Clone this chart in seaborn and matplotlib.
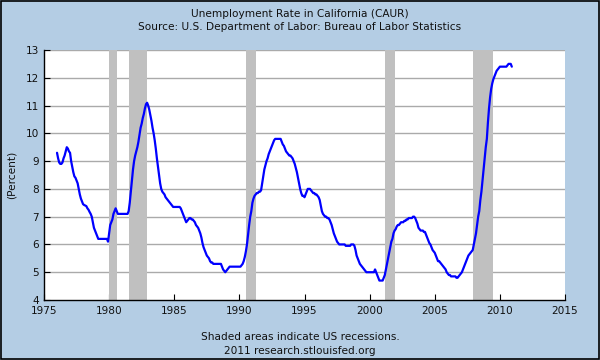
import numpy as np
import pandas as pd
import matplotlib
matplotlib.use("Agg")
import matplotlib.pyplot as plt
import seaborn as sns
from matplotlib.patches import Rectangle

# Monthly California unemployment rate (%), Jan 1976 - Dec 2010
rate_1976 = [9.3, 9.1, 8.95, 8.9, 8.9, 8.95, 9.1, 9.2, 9.35, 9.5, 9.45, 9.35]
rate_1977 = [9.3, 9.0, 8.8, 8.6, 8.45, 8.4, 8.3, 8.2, 8.0, 7.8, 7.65, 7.55]
rate_1978 = [7.45, 7.42, 7.4, 7.38, 7.3, 7.25, 7.17, 7.1, 7.0, 6.8, 6.6, 6.5]
rate_1979 = [6.4, 6.3, 6.2, 6.2, 6.2, 6.2, 6.2, 6.2, 6.2, 6.2, 6.2, 6.1]
rate_1980 = [6.4, 6.7, 6.8, 6.9, 7.1, 7.2, 7.3, 7.2, 7.1, 7.1, 7.1, 7.1]
rate_1981 = [7.1, 7.1, 7.1, 7.1, 7.1, 7.1, 7.2, 7.5, 7.9, 8.3, 8.7, 9.0]
rate_1982 = [9.2, 9.35, 9.5, 9.7, 9.95, 10.2, 10.35, 10.55, 10.7, 10.9, 11.05, 11.1]
rate_1983 = [11.0, 10.85, 10.65, 10.45, 10.2, 10.0, 9.75, 9.45, 9.1, 8.8, 8.5, 8.2]
rate_1984 = [8.0, 7.9, 7.85, 7.8, 7.7, 7.65, 7.6, 7.55, 7.5, 7.45, 7.4, 7.35]
rate_1985 = [7.35, 7.35, 7.35, 7.35, 7.35, 7.35, 7.3, 7.2, 7.1, 7.0, 6.9, 6.8]
rate_1986 = [6.85, 6.9, 6.95, 6.95, 6.9, 6.9, 6.85, 6.8, 6.7, 6.65, 6.6, 6.5]
rate_1987 = [6.4, 6.25, 6.05, 5.9, 5.8, 5.7, 5.6, 5.55, 5.5, 5.4, 5.35, 5.35]
rate_1988 = [5.3, 5.3, 5.3, 5.3, 5.3, 5.3, 5.3, 5.3, 5.2, 5.1, 5.05, 5.0]
rate_1989 = [5.05, 5.1, 5.15, 5.2, 5.2, 5.2, 5.2, 5.2, 5.2, 5.2, 5.2, 5.2]
rate_1990 = [5.2, 5.2, 5.25, 5.3, 5.4, 5.55, 5.75, 6.0, 6.35, 6.7, 7.0, 7.2]
rate_1991 = [7.5, 7.65, 7.75, 7.8, 7.85, 7.85, 7.9, 7.9, 7.95, 8.2, 8.45, 8.7]
rate_1992 = [8.85, 9.0, 9.1, 9.25, 9.35, 9.45, 9.55, 9.65, 9.75, 9.8, 9.8, 9.8]
rate_1993 = [9.8, 9.8, 9.8, 9.7, 9.6, 9.55, 9.45, 9.35, 9.3, 9.25, 9.2, 9.2]
rate_1994 = [9.15, 9.1, 9.0, 8.9, 8.75, 8.6, 8.4, 8.2, 8.0, 7.85, 7.75, 7.75]
rate_1995 = [7.7, 7.8, 7.9, 8.0, 8.0, 8.0, 7.95, 7.9, 7.85, 7.85, 7.8, 7.8]
rate_1996 = [7.75, 7.7, 7.6, 7.4, 7.2, 7.1, 7.05, 7.0, 7.0, 6.95, 6.95, 6.9]
rate_1997 = [6.8, 6.7, 6.55, 6.4, 6.3, 6.2, 6.1, 6.05, 6.0, 6.0, 6.0, 6.0]
rate_1998 = [6.0, 6.0, 5.95, 5.95, 5.95, 5.95, 5.95, 6.0, 6.0, 6.0, 5.95, 5.8]
rate_1999 = [5.6, 5.5, 5.4, 5.3, 5.25, 5.2, 5.15, 5.1, 5.05, 5.0, 5.0, 5.0]
rate_2000 = [5.0, 5.0, 5.0, 5.0, 5.0, 5.1, 5.0, 4.9, 4.8, 4.7, 4.7, 4.7]
rate_2001 = [4.7, 4.8, 4.9, 5.1, 5.3, 5.5, 5.7, 5.9, 6.1, 6.2, 6.4, 6.5]
rate_2002 = [6.55, 6.65, 6.7, 6.7, 6.75, 6.8, 6.8, 6.8, 6.85, 6.85, 6.9, 6.9]
rate_2003 = [6.95, 6.95, 6.95, 6.95, 7.0, 7.0, 6.95, 6.85, 6.75, 6.6, 6.55, 6.5]
rate_2004 = [6.5, 6.5, 6.45, 6.45, 6.35, 6.25, 6.15, 6.05, 6.0, 5.9, 5.8, 5.75]
rate_2005 = [5.7, 5.6, 5.5, 5.4, 5.4, 5.35, 5.3, 5.25, 5.2, 5.15, 5.1, 5.0]
rate_2006 = [4.95, 4.9, 4.9, 4.85, 4.85, 4.85, 4.85, 4.85, 4.8, 4.8, 4.85, 4.9]
rate_2007 = [4.95, 5.0, 5.1, 5.2, 5.3, 5.4, 5.5, 5.6, 5.65, 5.7, 5.75, 5.8]
rate_2008 = [6.0, 6.2, 6.4, 6.7, 7.0, 7.2, 7.6, 7.9, 8.3, 8.7, 9.1, 9.5]
rate_2009 = [9.8, 10.4, 10.9, 11.3, 11.6, 11.8, 11.95, 12.05, 12.15, 12.25, 12.3, 12.35]
rate_2010 = [12.4, 12.4, 12.4, 12.4, 12.4, 12.4, 12.4, 12.45, 12.5, 12.5, 12.5, 12.4]

start_year = 1976
years_rates = [rate_1976, rate_1977, rate_1978, rate_1979, rate_1980, rate_1981,
               rate_1982, rate_1983, rate_1984, rate_1985, rate_1986, rate_1987,
               rate_1988, rate_1989, rate_1990, rate_1991, rate_1992, rate_1993,
               rate_1994, rate_1995, rate_1996, rate_1997, rate_1998, rate_1999,
               rate_2000, rate_2001, rate_2002, rate_2003, rate_2004, rate_2005,
               rate_2006, rate_2007, rate_2008, rate_2009, rate_2010]

# US recessions (decimal years)
rec_start = [1980.0, 1981.5, 1990.5, 2001.17, 2007.92]
rec_end = [1980.58, 1982.92, 1991.25, 2001.92, 2009.5]

x_ticks = [1975, 1980, 1985, 1990, 1995, 2000, 2005, 2010, 2015]
y_ticks = [4, 5, 6, 7, 8, 9, 10, 11, 12, 13]

title_lines = ["Unemployment Rate in California (CAUR)",
               "Source: U.S. Department of Labor: Bureau of Labor Statistics"]
footer_lines = ["Shaded areas indicate US recessions.",
                "2011 research.stlouisfed.org"]

values = [v for yr in years_rates for v in yr]
dates = [start_year + i / 12.0 for i in range(len(values))]
df = pd.DataFrame({"date": dates, "rate": values})

sns.set_theme(style="white")
plt.rcParams['font.family'] = ['DejaVu Sans']

BG = "#b4cde4"
fig = plt.figure(figsize=(6, 3.6), dpi=100, facecolor=BG)
ax = fig.add_axes([44 / 600, 60 / 360, 521 / 600, 250 / 360])
ax.set_facecolor("white")

for s, e in zip(rec_start, rec_end):
    ax.axvspan(s, e, color="#c0c0c0", lw=0, zorder=1)

for yv in y_ticks[1:]:
    ax.axhline(yv, color="#aaaaaa", lw=1.0, zorder=0.5)

sns.lineplot(data=df, x="date", y="rate", ax=ax, color="#0000ff", lw=1.6, zorder=3)

ax.set_xlim(1975, 2015)
ax.set_ylim(4, 13)
ax.set_xticks(x_ticks)
ax.set_yticks(y_ticks)
ax.set_xticklabels([str(t) for t in x_ticks])
ax.set_yticklabels([str(t) for t in y_ticks])
ax.tick_params(axis="both", direction="in", length=4.5, width=0.8, color="black",
               labelsize=7.6, labelcolor="#111111")
ax.tick_params(axis="x", pad=4.5, bottom=True)
ax.tick_params(axis="y", pad=3.5, left=True)
ax.set_xlabel("")
ax.set_ylabel("")
for sp in ["top", "right"]:
    ax.spines[sp].set_visible(False)
for sp in ["left", "bottom"]:
    ax.spines[sp].set_color("black")
    ax.spines[sp].set_linewidth(1.0)

fig.text(12 / 600, 1 - 175 / 360, "(Percent)", rotation=90, ha="center", va="center",
         fontsize=7.6, color="#111111")
fig.text(0.5, 1 - 14 / 360, title_lines[0], ha="center", va="center", fontsize=7.6, color="#111111")
fig.text(0.5, 1 - 27.5 / 360, title_lines[1], ha="center", va="center", fontsize=7.6, color="#111111")
fig.text(0.5, 1 - 337 / 360, footer_lines[0], ha="center", va="center", fontsize=7.6, color="#111111")
fig.text(0.5, 1 - 350.5 / 360, footer_lines[1], ha="center", va="center", fontsize=7.6, color="#111111")

fig.patches.append(Rectangle((0.001, 0.0015), 0.997, 0.996, transform=fig.transFigure,
                             fill=False, edgecolor="black", lw=1.2))

fig.savefig("out.png", dpi=100, facecolor=BG)
